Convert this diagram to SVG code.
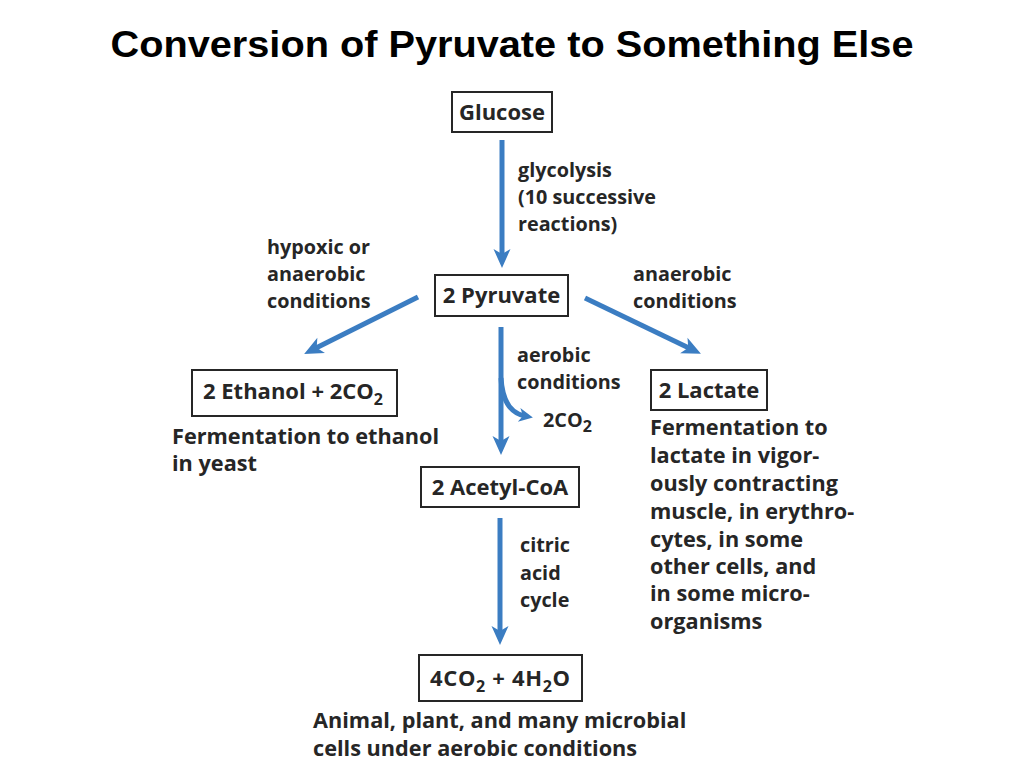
<svg xmlns="http://www.w3.org/2000/svg" width="1024" height="768" viewBox="0 0 1024 768">
<defs>
<style>
.title{font-family:"Liberation Sans",Arial,sans-serif;font-weight:700;font-size:37px;fill:#000}
.t{font-family:"Open Sans",Lato,sans-serif;font-weight:700;font-size:19.8px;fill:#262626}
.b{font-family:"Open Sans",Lato,sans-serif;font-weight:700;font-size:22px;fill:#262626}
.c{font-family:"Open Sans",Lato,sans-serif;font-weight:700;font-size:21.7px;fill:#262626}
.box{fill:#fff;stroke:#262626;stroke-width:2}
.arr{fill:none;stroke:#3b7dc2;stroke-width:5}
.sub{font-size:16px}
</style>
<marker id="ah" viewBox="-10 -10 22 20" markerWidth="22" markerHeight="20" refX="0" refY="0" orient="auto" markerUnits="userSpaceOnUse">
<path d="M11,0 L-8,-8.5 L-3,0 L-8,8.5 Z" fill="#3b7dc2"/>
</marker>
<marker id="ahs" viewBox="-10 -10 22 20" markerWidth="22" markerHeight="20" refX="0" refY="0" orient="auto" markerUnits="userSpaceOnUse">
<path d="M8,0 L-6,-7 L-2,0 L-6,7 Z" fill="#3b7dc2"/>
</marker>
</defs>
<rect width="1024" height="768" fill="#fff"/>
<text class="title" x="512" y="57" text-anchor="middle" textLength="803" lengthAdjust="spacingAndGlyphs">Conversion of Pyruvate to Something Else</text>

<g id="connectors">
<line class="arr" x1="502" y1="140" x2="502" y2="257" marker-end="url(#ah)"/>
<line class="arr" x1="418" y1="297" x2="314" y2="349" marker-end="url(#ah)"/>
<line class="arr" x1="585" y1="298" x2="691" y2="349" marker-end="url(#ah)"/>
<line class="arr" x1="501" y1="327" x2="501" y2="444" marker-end="url(#ah)"/>
<path class="arr" d="M501,378 Q503,412 525,416" marker-end="url(#ahs)"/>
<line class="arr" x1="500" y1="518" x2="500" y2="634" marker-end="url(#ah)"/>
</g>

<g id="label-glycolysis">
<text class="t" x="518" y="177">glycolysis</text>
<text class="t" x="518" y="204">(10 successive</text>
<text class="t" x="518" y="231">reactions)</text>
</g>
<g id="label-hypoxic">
<text class="t" x="267" y="254">hypoxic or</text>
<text class="t" x="267" y="281">anaerobic</text>
<text class="t" x="267" y="308">conditions</text>
</g>
<g id="label-anaerobic">
<text class="t" x="633" y="281">anaerobic</text>
<text class="t" x="633" y="308">conditions</text>
</g>
<g id="label-aerobic">
<text class="t" x="517" y="362">aerobic</text>
<text class="t" x="517" y="389">conditions</text>
<text class="t" x="543" y="427">2CO<tspan class="sub" font-size="15px" dy="5">2</tspan></text>
</g>
<g id="label-citric">
<text class="t" x="520" y="552">citric</text>
<text class="t" x="520" y="580">acid</text>
<text class="t" x="520" y="607">cycle</text>
</g>

<g id="node-glucose">
<rect class="box" x="452" y="92" width="100" height="40"/>
<text class="b" x="502" y="120" text-anchor="middle">Glucose</text>
</g>
<g id="node-pyruvate">
<rect class="box" x="435" y="275" width="133" height="41"/>
<text class="b" x="501.5" y="303" text-anchor="middle">2 Pyruvate</text>
</g>
<g id="node-ethanol">
<rect class="box" x="192" y="370" width="205" height="46"/>
<text class="b" x="203" y="399">2 Ethanol + 2CO<tspan class="sub" dy="6">2</tspan></text>
<text class="c" x="172" y="444">Fermentation to ethanol</text>
<text class="c" x="172" y="471">in yeast</text>
</g>
<g id="node-lactate">
<rect class="box" x="651" y="370" width="116" height="40"/>
<text class="b" x="709" y="398" text-anchor="middle">2 Lactate</text>
<text class="c" x="650" y="435">Fermentation to</text>
<text class="c" x="650" y="463">lactate in vigor-</text>
<text class="c" x="650" y="491">ously contracting</text>
<text class="c" x="650" y="519">muscle, in erythro-</text>
<text class="c" x="650" y="547">cytes, in some</text>
<text class="c" x="650" y="574">other cells, and</text>
<text class="c" x="650" y="601">in some micro-</text>
<text class="c" x="650" y="629">organisms</text>
</g>
<g id="node-acetylcoa">
<rect class="box" x="421" y="467" width="158" height="40"/>
<text class="b" x="500" y="495" text-anchor="middle">2 Acetyl-CoA</text>
</g>
<g id="node-co2h2o">
<rect class="box" x="419" y="655" width="163" height="46"/>
<text class="b" x="430" y="686" textLength="140">4CO<tspan class="sub" dy="6">2</tspan><tspan dy="-6"> + 4H</tspan><tspan class="sub" dy="6">2</tspan><tspan dy="-6">O</tspan></text>
<text class="c" x="313" y="728">Animal, plant, and many microbial</text>
<text class="c" x="313" y="756">cells under aerobic conditions</text>
</g>
</svg>
